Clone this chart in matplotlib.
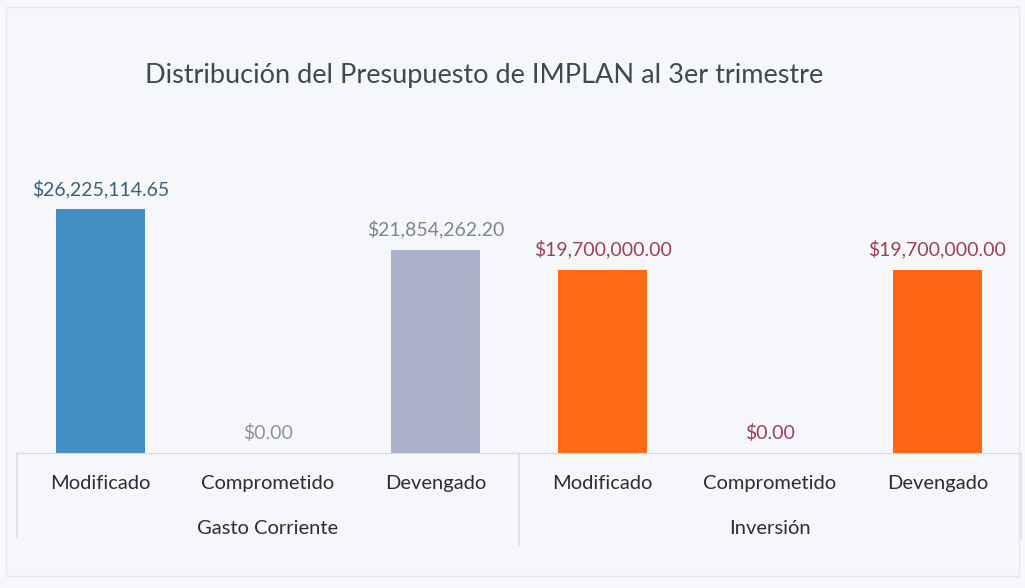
import matplotlib.pyplot as plt
from matplotlib.patches import Rectangle

categories = ['Modificado', 'Comprometido', 'Devengado',
              'Modificado', 'Comprometido', 'Devengado']
groups = ['Gasto Corriente', 'Inversión']
values = [26225114.65, 0.00, 21854262.20, 19700000.00, 0.00, 19700000.00]

bar_colors = ['#428FC5', '#B0B5CC', '#AAB2CB', '#FF6A14', '#FF6A14', '#FF6410']
label_colors = ['#3A6275', '#8F93A0', '#80848F', '#9E3F58', '#9E3F58', '#9E3F58']
bg = '#F5F7FA'
line_color = '#D6D9DE'
font = ['Lato', 'DejaVu Sans']

fig = plt.figure(figsize=(10.25, 5.88), dpi=100, facecolor=bg)
fig.patches.append(Rectangle((6 / 1025, 0.02), 1 - 12 / 1025, 1 - 0.032,
                             transform=fig.transFigure, fill=False,
                             edgecolor='#E6E8EC', linewidth=1))

# axes: baseline at y=453px, x from 17px to 1021px
ax = fig.add_axes([17 / 1025, (588 - 453) / 588, 1004 / 1025, 0.5])
ax.set_facecolor(bg)
x = list(range(len(values)))
ax.bar(x, values, width=0.53, color=bar_colors, zorder=2)
ax.set_xlim(-0.5, 5.5)
scale = 9.30e-6  # px per unit
ax.set_ylim(0, 0.5 * 588 / scale)
for s in ['top', 'right', 'left']:
    ax.spines[s].set_visible(False)
ax.spines['bottom'].set_color(line_color)
ax.set_yticks([])
ax.set_xticks([])

for xi, v, c in zip(x, values, label_colors):
    ax.annotate(f'${v:,.2f}', (xi, v), xytext=(0, 8), textcoords='offset points',
                ha='center', va='bottom', fontsize=14, color=c, family=font)
    ax.annotate(categories[xi], (xi, 0), xytext=(0, -16), textcoords='offset points',
                ha='center', va='top', fontsize=14.5, color='#2E2E2E', family=font)

for gi, g in enumerate(groups):
    ax.annotate(g, (1 + 3 * gi, 0), xytext=(0, -48), textcoords='offset points',
                ha='center', va='top', fontsize=14.5, color='#2E2E2E', family=font)

# group separators below the axis
for xs, depth in [(-0.5, 85), (2.5, 92), (5.5, 85)]:
    ax.annotate('', (xs, 0), xytext=(xs, -depth * 0.72),
                textcoords=('data', 'offset points'),
                arrowprops=dict(arrowstyle='-', color=line_color, lw=1,
                                shrinkA=0, shrinkB=0))

fig.text(145 / 1025, 1 - 75 / 588, 'Distribución del Presupuesto de IMPLAN al 3er trimestre',
         ha='left', va='center', fontsize=19.5, color='#3E4A52', family=font)

fig.savefig('out.png', dpi=100, facecolor=bg)
